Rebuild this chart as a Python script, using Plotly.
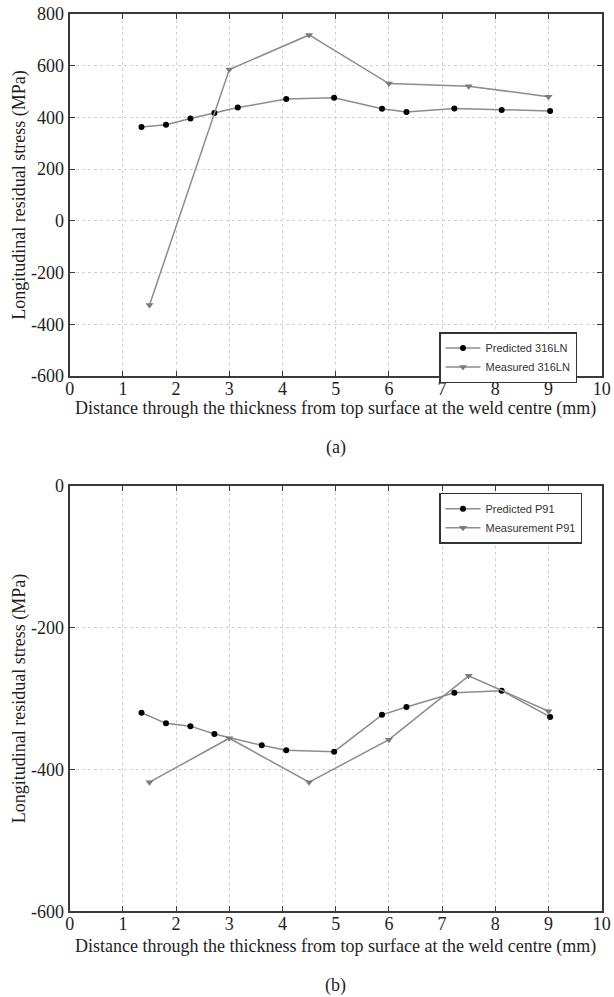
import plotly.graph_objects as go

# ---- data ----
x_pred_a = [1.35, 1.81, 2.27, 2.72, 3.16, 4.07, 4.97, 5.87, 6.33, 7.23, 8.12, 9.03]
y_pred_a = [363, 372, 396, 417, 438, 471, 476, 434, 421, 435, 429, 425]
x_meas_a = [1.5, 3.0, 4.5, 6.0, 7.5, 9.0]
y_meas_a = [-325, 585, 719, 531, 521, 480]

x_pred_b = [1.35, 1.81, 2.27, 2.72, 3.61, 4.07, 4.97, 5.87, 6.33, 7.23, 8.12, 9.03]
y_pred_b = [-320, -335, -339, -350, -366, -373, -375, -323, -312, -292, -289, -326]
x_meas_b = [1.5, 3.0, 4.5, 6.0, 7.5, 9.0]
y_meas_b = [-418, -356, -418, -358, -268, -318]

x_ticks = list(range(0, 11))
y_ticks_a = [-600, -400, -200, 0, 200, 400, 600, 800]
y_ticks_b = [-600, -400, -200, 0]
y_labels_a = ["-600", "-400", "-200", "0", "200", "400", "600", "800"]
y_labels_b = ["-600", "-400", "-200", "0"]

xtitle = "Distance through the thickness from top surface at the weld centre (mm)"
ytitle = "Longitudinal residual stress (MPa)"

W, H = 614, 997
LINE = "#8c8c8c"
AX = "#3a3a3a"
TXT = "#1e1e1e"
SERIF = "Liberation Serif"
SANS = "Liberation Sans Narrow, Liberation Sans, Arial"
FS = 18

fig = go.Figure()

fig.add_trace(go.Scatter(x=x_pred_a, y=y_pred_a, mode="lines+markers", name="Predicted 316LN",
                         line=dict(color=LINE, width=1.5),
                         marker=dict(symbol="circle", size=6, color="black"),
                         xaxis="x", yaxis="y", legend="legend"))
fig.add_trace(go.Scatter(x=x_meas_a, y=y_meas_a, mode="lines+markers", name="Measured 316LN",
                         line=dict(color=LINE, width=1.5),
                         marker=dict(symbol="triangle-down", size=7, color="#7a7a7a"),
                         xaxis="x", yaxis="y", legend="legend"))
fig.add_trace(go.Scatter(x=x_pred_b, y=y_pred_b, mode="lines+markers", name="Predicted P91",
                         line=dict(color=LINE, width=1.5),
                         marker=dict(symbol="circle", size=6, color="black"),
                         xaxis="x2", yaxis="y2", legend="legend2"))
fig.add_trace(go.Scatter(x=x_meas_b, y=y_meas_b, mode="lines+markers", name="Measurement P91",
                         line=dict(color=LINE, width=1.5),
                         marker=dict(symbol="triangle-down", size=7, color="#7a7a7a"),
                         xaxis="x2", yaxis="y2", legend="legend2"))

xdom = [69.7 / W, 601.7 / W]
ydom_a = [1 - 376 / H, 1 - 14 / H]
ydom_b = [1 - 911.3 / H, 1 - 485.7 / H]
xmid = 0.5 * (xdom[0] + xdom[1])

def xaxis(anchor):
    return dict(domain=xdom, anchor=anchor, range=[0, 10], tickvals=x_ticks,
                showline=True, linecolor=AX, linewidth=2, mirror="ticks",
                ticks="inside", ticklen=5, tickcolor=AX, tickwidth=1,
                showgrid=True, gridcolor="#d2d2d2", griddash="dot", gridwidth=1,
                zeroline=False, ticklabelstandoff=-5,
                tickfont=dict(family=SERIF, size=FS, color=TXT),
                automargin=False)

def yaxis(anchor, dom, rng, ticks, labels):
    return dict(domain=dom, anchor=anchor, range=rng, tickvals=ticks, ticktext=labels,
                showline=True, linecolor=AX, linewidth=2, mirror="ticks",
                ticks="inside", ticklen=5, tickcolor=AX, tickwidth=1,
                showgrid=True, gridcolor="#d2d2d2", griddash="dot", gridwidth=1,
                zeroline=False,
                tickfont=dict(family=SERIF, size=FS, color=TXT),
                title=dict(text=ytitle, font=dict(family=SERIF, size=FS, color=TXT), standoff=1),
                automargin=False)

legend_style = dict(bgcolor="white", bordercolor="#333", borderwidth=1.5,
                    font=dict(family=SANS, size=11, color="#333"),
                    xanchor="left", yanchor="top", itemwidth=35, tracegroupgap=0)

def label(text, ypx):
    return dict(text=text, x=xmid, y=1 - ypx / H, xref="paper", yref="paper",
                xanchor="center", yanchor="middle", showarrow=False,
                font=dict(family=SERIF, size=FS, color=TXT))

fig.update_layout(
    width=W, height=H,
    margin=dict(l=0, r=0, t=0, b=0),
    paper_bgcolor="white", plot_bgcolor="white",
    xaxis=xaxis("y"),
    yaxis=yaxis("x", ydom_a, [-600, 800], y_ticks_a, y_labels_a),
    xaxis2=xaxis("y2"),
    yaxis2=yaxis("x2", ydom_b, [-600, 0], y_ticks_b, y_labels_b),
    legend=dict(x=439 / W, y=1 - 332 / H, **legend_style),
    legend2=dict(x=439 / W, y=1 - 492.7 / H, **legend_style),
    annotations=[
        label(xtitle, 409),
        label(xtitle, 946),
        label("(a)", 447),
        label("(b)", 985),
    ],
)

fig.write_html("out.html", config={"displayModeBar": False},
               post_script="document.body.style.margin='0';document.body.style.overflow='hidden';")
